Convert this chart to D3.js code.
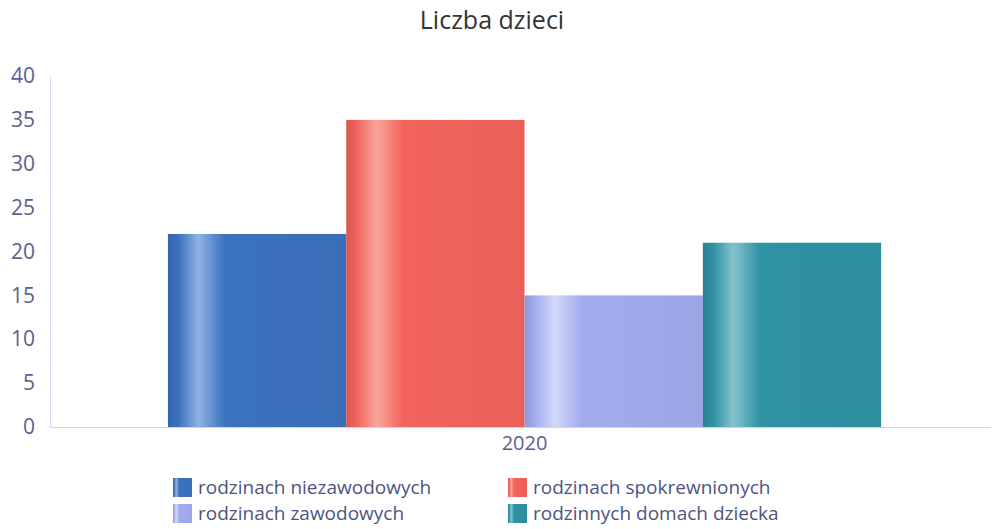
<!DOCTYPE html>
<html lang="pl">
<head>
<meta charset="UTF-8">
<title>Liczba dzieci</title>
<style>
    body { margin: 0; background: #fff; }
    text { font-family: "Open Sans", "Noto Sans", sans-serif; }
</style>
</head>
<body>
<svg id="main" width="994" height="529"></svg>
<script src="https://cdn.jsdelivr.net/npm/d3@7/dist/d3.min.js"></script>
<script>
var categories = ["2020"];
var seriesNames = ["rodzinach niezawodowych", "rodzinach spokrewnionych", "rodzinach zawodowych", "rodzinnych domach dziecka"];
var seriesValues = [22, 35, 15, 21];
var seriesColors = ["#3b72bf", "#f2645c", "#a2acee", "#2f93a4"];
var highlightColors = ["#8fb2e2", "#f9a59c", "#d3d9fa", "#86c2cd"];
var yTicks = [0, 5, 10, 15, 20, 25, 30, 35, 40];

var svg = d3.select("#main");
var margin = { left: 50, right: 4, top: 76, bottom: 102 };
var width = 994, height = 529;

var x0 = d3.scaleBand().domain(categories).range([margin.left, width - margin.right])
    .paddingInner(0).paddingOuter(0.159).align(0.52);
var x1 = d3.scaleBand().domain(seriesNames).range([0, x0.bandwidth()]).padding(0);
var y = d3.scaleLinear().domain([0, 40]).range([height - margin.bottom, margin.top]);

// gradients
var defs = svg.append("defs");
seriesColors.forEach(function(c, i) {
    var g = defs.append("linearGradient").attr("id", "grad" + i)
        .attr("x1", "0%").attr("x2", "100%").attr("y1", "0%").attr("y2", "0%");
    g.append("stop").attr("offset", "0%").attr("stop-color", d3.color(c).darker(0.35));
    g.append("stop").attr("offset", "6%").attr("stop-color", c);
    g.append("stop").attr("offset", "17%").attr("stop-color", highlightColors[i]);
    g.append("stop").attr("offset", "32%").attr("stop-color", c);
    g.append("stop").attr("offset", "100%").attr("stop-color", d3.color(c).darker(0.1));
});

// title
svg.append("text").attr("x", 492).attr("y", 29).attr("text-anchor", "middle")
    .attr("font-size", 25).attr("fill", "#333").text("Liczba dzieci");

// y axis
var yAxis = svg.append("g").attr("transform", "translate(" + margin.left + ",0)")
    .call(d3.axisLeft(y).tickValues(yTicks).tickSize(0).tickPadding(15));
yAxis.select(".domain").attr("stroke", "#d6dcf4");
yAxis.selectAll("text").attr("font-size", 21).attr("fill", "#5b628f")
    .attr("font-family", "'Open Sans', sans-serif");

// bars
svg.append("g").selectAll("rect").data(seriesNames).join("rect")
    .attr("x", function(d) { return x0("2020") + x1(d); })
    .attr("y", function(d, i) { return y(seriesValues[i]); })
    .attr("width", x1.bandwidth())
    .attr("height", function(d, i) { return y(0) - y(seriesValues[i]); })
    .attr("fill", function(d, i) { return "url(#grad" + i + ")"; });

// x axis
var xAxis = svg.append("g").attr("transform", "translate(0," + y(0) + ")")
    .call(d3.axisBottom(x0).tickSize(0).tickPadding(9));
xAxis.select(".domain").attr("stroke", "#cdd4f2");
xAxis.selectAll("text").attr("font-size", 20).attr("fill", "#5b628f")
    .attr("font-family", "'Open Sans', sans-serif");

// legend
var legendPos = [[173, 478], [508, 478], [173, 504], [508, 504]];
var order = [0, 1, 2, 3];
var legend = svg.append("g").selectAll("g").data(order).join("g")
    .attr("transform", function(d) { return "translate(" + legendPos[d][0] + "," + legendPos[d][1] + ")"; });
legend.append("rect").attr("width", 19).attr("height", 19)
    .attr("fill", function(d) { return "url(#grad" + d + ")"; });
legend.append("text").attr("x", 25).attr("y", 16).attr("font-size", 19).attr("fill", "#4d5482")
    .text(function(d) { return seriesNames[d]; });
</script>
</body>
</html>
